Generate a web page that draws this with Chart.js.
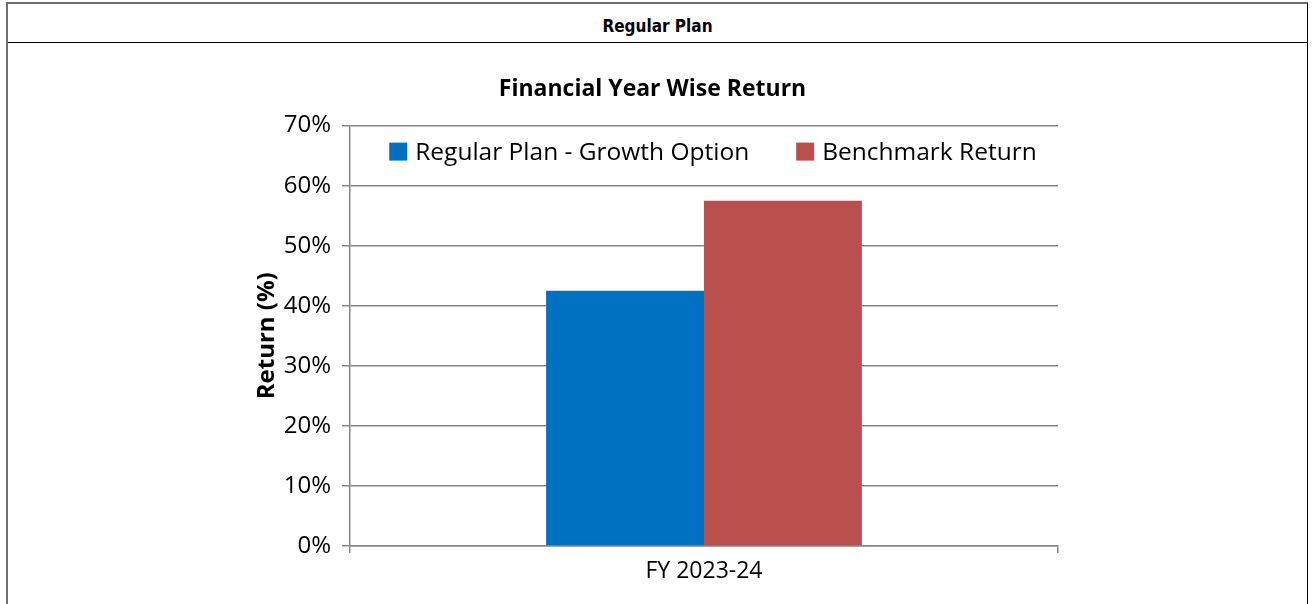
<!DOCTYPE html>
<html>
<head>
<meta charset="utf-8">
<script src="https://cdn.jsdelivr.net/npm/chart.js@4.4.1/dist/chart.umd.min.js"></script>
<style>
  html, body { margin: 0; padding: 0; background: #fff; }
  body { width: 1312px; height: 604px; overflow: hidden; position: relative; }
  .box { position: absolute; left: 6px; top: 2px; width: 1302px; height: 620px;
         border-left: 2px solid #6e6e6e; border-top: 2px solid #6e6e6e; border-right: 1px solid #000;
         box-sizing: border-box; }
  .head { height: 38px; border-bottom: 1.5px solid #000; text-align: center;
          font-family: "Liberation Sans Narrow", "DejaVu Sans Condensed", sans-serif;
          font-stretch: condensed; font-weight: bold; font-size: 17px; line-height: 44px; color: #000; }
  .wrap { position: absolute; left: -2px; top: 43px; width: 1300px; height: 559px; }
</style>
</head>
<body>
<div class="box">
  <div class="head">Regular Plan</div>
  <div class="wrap"><canvas id="chart"></canvas></div>
</div>
<script>
// values
const categories = ['FY 2023-24'];
const seriesNames = ['Regular Plan - Growth Option', 'Benchmark Return'];
const regularPlan = [42.5];
const benchmark = [57.5];
const yTicks = [0, 10, 20, 30, 40, 50, 60, 70];

const gridGrey = '#868686';
const font = 'Open Sans';

// legend drawn inside the plot area, one row, like the original
const innerLegend = {
  id: 'innerLegend',
  afterDraw(chart) {
    const ctx = chart.ctx;
    const area = chart.chartArea;
    const box = 18, gap = 8, itemGap = 47;
    ctx.save();
    ctx.font = '24.5px "' + font + '"';
    ctx.textBaseline = 'middle';
    const items = chart.data.datasets.map(ds => ({
      text: ds.label, color: ds.backgroundColor, w: box + gap + ctx.measureText(ds.label).width
    }));
    const total = items.reduce((s, it) => s + it.w, 0) + itemGap * (items.length - 1);
    // the original sits a little right of centre
    let x = (area.left + area.right) / 2 - total / 2 + 9;
    const y = area.top + 26;
    items.forEach(it => {
      ctx.fillStyle = it.color;
      ctx.fillRect(x, y - box / 2, box, box);
      ctx.fillStyle = '#000';
      ctx.fillText(it.text, x + box + gap, y + 1);
      x += it.w + itemGap;
    });
    ctx.restore();
  }
};

new Chart(document.getElementById('chart').getContext('2d'), {
  type: 'bar',
  data: {
    labels: categories,
    datasets: [
      { label: seriesNames[0], data: regularPlan, backgroundColor: '#0070C0' },
      { label: seriesNames[1], data: benchmark, backgroundColor: '#B9504D' }
    ]
  },
  options: {
    responsive: true,
    maintainAspectRatio: false,
    animation: false,
    layout: { padding: { left: 241, right: 248, top: 0, bottom: 0 } },
    datasets: { bar: { categoryPercentage: 0.446, barPercentage: 1 } },
    plugins: {
      legend: { display: false },
      tooltip: { enabled: false },
      title: {
        display: true,
        text: 'Financial Year Wise Return',
        color: '#000',
        font: { family: font, size: 23, weight: 'bold' },
        padding: { top: 29, bottom: 22 }
      }
    },
    scales: {
      x: {
        offset: true,
        grid: { offset: true, drawOnChartArea: false, color: gridGrey, lineWidth: 1.5, tickLength: 7 },
        border: { color: gridGrey, width: 1.5 },
        ticks: { color: '#000', font: { family: font, size: 23 }, padding: 5 },
        afterFit(s) { s.height = 60; }
      },
      y: {
        min: 0,
        max: 70,
        afterBuildTicks(s) { s.ticks = yTicks.map(v => ({ value: v })); },
        grid: { color: gridGrey, lineWidth: 1.5, tickLength: 8 },
        border: { color: gridGrey, width: 1.5 },
        ticks: { color: '#000', font: { family: font, size: 24 }, padding: 11,
                 callback: v => v + '%' },
        title: { display: true, text: 'Return (%)', color: '#000',
                 font: { family: font, size: 24, weight: 'bold' }, padding: { top: 6, bottom: 4 } },
        afterFit(s) { s.width = 103; }
      }
    }
  },
  plugins: [innerLegend]
});
</script>
</body>
</html>
